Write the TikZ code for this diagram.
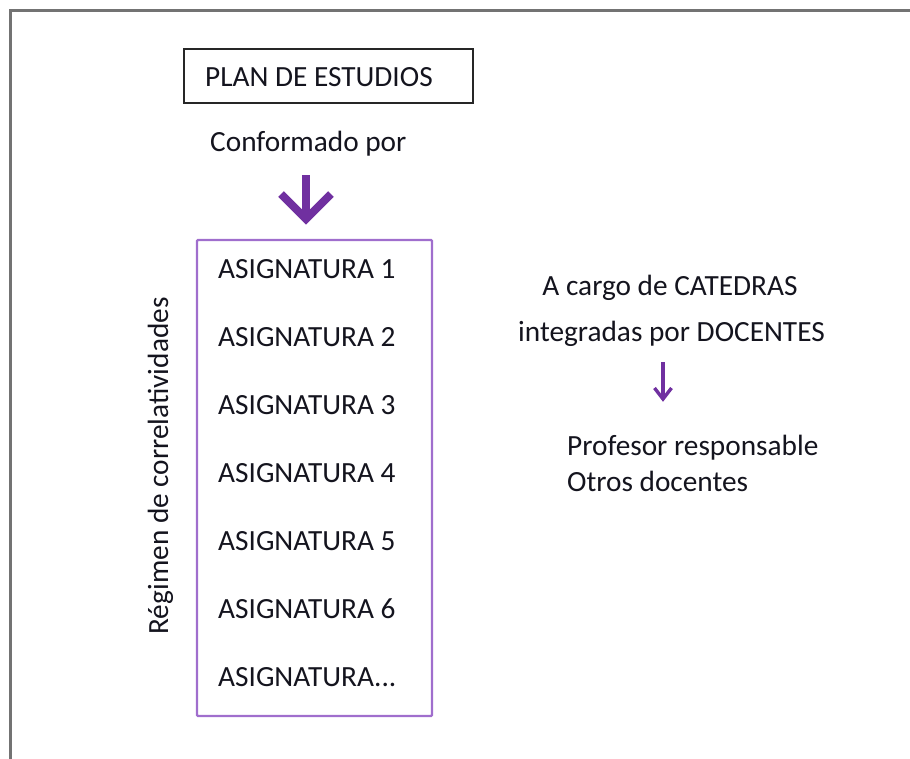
\documentclass[tikz,border=0pt]{standalone}
\usepackage{fontspec}
\setmainfont{Carlito}
\definecolor{framegray}{RGB}{115,115,115}
\definecolor{boxpurple}{RGB}{160,110,205}
\definecolor{arrowpurple}{RGB}{112,48,160}
\definecolor{txtcol}{RGB}{20,20,30}
\tikzset{
  txt/.style={inner sep=0pt, text=txtcol, font=\fontsize{29.3}{35}\selectfont},
  planbox/.style={draw=black!85, line width=2pt, minimum width=289pt, minimum height=54pt, inner sep=0pt},
  listbox/.style={draw=boxpurple, line width=2.2pt, minimum width=235pt, minimum height=476pt, inner sep=0pt, rounded corners=1pt},
  bigshaft/.style={draw=arrowpurple, line width=8pt},
  smallshaft/.style={draw=arrowpurple, line width=3.4pt},
}
\begin{document}
\begin{tikzpicture}[x=1pt,y=-1pt]
\useasboundingbox (0,0) rectangle (910,758);
% outer frame (cut off at right and bottom)
\draw[framegray, line width=3pt] (10,760) -- (10,10) -- (912,10);

% top box
\node[planbox] (planbox) at (328.5,76) {};
\node[txt, anchor=base west] (plan) at (205,86) {PLAN DE ESTUDIOS};
\node[txt, anchor=base west] (conf) at (210,151) {Conformado por};

% big arrow
\coordinate (bigA) at (306,175);
\coordinate (bigB) at (306,219);
\draw[bigshaft] (bigA) -- ([yshift=3pt]bigB);
\draw[bigshaft, line join=miter] ([xshift=-25pt,yshift=25pt]bigB) -- (bigB) -- ([xshift=25pt,yshift=25pt]bigB);

% list box
\node[listbox] (list) at (314.5,478) {};
\node[txt, anchor=base west] (as1) at (218,278) {ASIGNATURA 1};
\node[txt, anchor=base west] (as2) at (218,346) {ASIGNATURA 2};
\node[txt, anchor=base west] (as3) at (218,414) {ASIGNATURA 3};
\node[txt, anchor=base west] (as4) at (218,482) {ASIGNATURA 4};
\node[txt, anchor=base west] (as5) at (218,550) {ASIGNATURA 5};
\node[txt, anchor=base west] (as6) at (218,618) {ASIGNATURA 6};
\node[txt, anchor=base west] (as7) at (218,686) {ASIGNATURA...};

% rotated label
\node[txt, rotate=90, anchor=base] (reg) at (168,466) {Régimen de correlatividades};

% right side
\node[txt, anchor=base] (cargo1) at (670,295) {A cargo de CATEDRAS};
\node[txt, anchor=base] (cargo2) at (671.5,341) {integradas por DOCENTES};

\coordinate (smA) at (663,362);
\coordinate (smB) at (663,399);
\draw[smallshaft] (smA) -- ([yshift=1pt]smB);
\draw[smallshaft, line join=miter] ([xshift=-8.5pt,yshift=11pt]smB) -- (smB) -- ([xshift=8.5pt,yshift=11pt]smB);

\node[txt, anchor=base west] (prof) at (567,455) {Profesor responsable};
\node[txt, anchor=base west] (otros) at (567,491) {Otros docentes};
\end{tikzpicture}
\end{document}
